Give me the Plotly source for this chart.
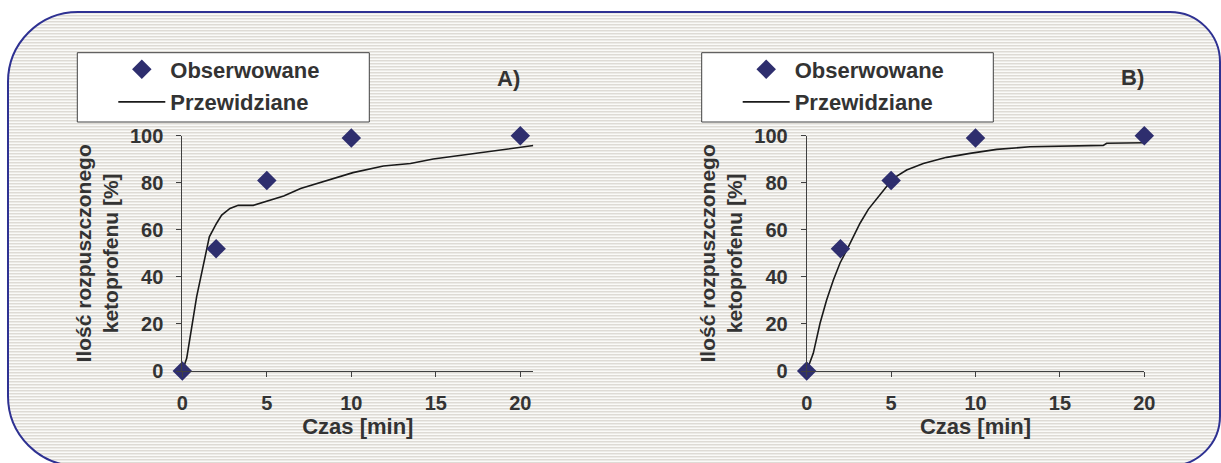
import base64, struct, zlib
import numpy as np
import plotly.graph_objects as go

# ---------------- data ----------------
time_obs = [0, 2, 5, 10, 20]
obs_A = [0, 52, 81, 99, 100]
obs_B = [0, 52, 81, 99, 100]

pred_A_time = [0, 0.26, 0.85, 1.24, 1.6, 2.03, 2.33, 2.82, 3.31, 4.2, 5.0, 6.0, 7.0,
               8.5, 10.1, 11.9, 13.5, 14.85, 17.4, 20.0, 20.77]
pred_A = [0, 5.4, 31.6, 44.3, 57, 62.8, 66.3, 69.1, 70.4, 70.4, 72.2, 74.4, 77.6,
          80.9, 84.3, 87.1, 88.2, 90.1, 92.5, 94.9, 95.8]

pred_B_time = [0, 0.39, 0.79, 1.18, 1.58, 1.97, 2.37, 2.76, 3.16, 3.65, 4.15, 4.64,
               5.13, 5.92, 6.91, 8.29, 9.67, 11.26, 13.23, 17.57, 17.77, 20.0]
pred_B = [0, 7.5, 20.3, 30.2, 38.7, 45.8, 51.4, 56.8, 62.8, 68.7, 73.4, 77.6,
          81.9, 85.4, 88.2, 90.8, 92.5, 94.2, 95.3, 95.9, 96.8, 97.0]

x_ticks = [0, 5, 10, 15, 20]
y_ticks = [0, 20, 40, 60, 80, 100]
name_obs = "Obserwowane"
name_pred = "Przewidziane"
x_title = "Czas [min]"
y_title = "Ilość rozpuszczonego<br>ketoprofenu [%]"
panel_labels = ["A)", "B)"]

# ---------------- geometry / style ----------------
W, H = 1221, 463
FONT = "Liberation Sans, Arial, sans-serif"
TXT = "#333333"
AX = "#404040"
NAVY = "#2e2e6e"
BORDER = "#2e3192"


def px(x):
    return x / W


def py(y):
    return 1 - y / H


# background stripes image (decoration)
bx0, bx1, by0, by1 = 8, 1220, 12, 466
rl, rr = 70, 50
yy, xx = np.mgrid[0:H, 0:W]
inside = (xx >= bx0) & (xx <= bx1) & (yy >= by0) & (yy <= by1)
for cx, cy, r, sx, sy in [(bx0 + rl, by0 + rl, rl, -1, -1), (bx0 + rl, by1 - rl, rl, -1, 1),
                          (bx1 - rr, by0 + rr, rr, 1, -1), (bx1 - rr, by1 - rr, rr, 1, 1)]:
    region = ((xx - cx) * sx > 0) & ((yy - cy) * sy > 0)
    outside = (xx - cx) ** 2 + (yy - cy) ** 2 > r * r
    inside &= ~(region & outside)
row_cols = np.array([[222, 219, 213], [236, 235, 231], [250, 250, 248]], dtype=np.uint8)
img = np.full((H, W, 3), 255, dtype=np.uint8)
stripe = row_cols[yy % 3]
img[inside] = stripe[inside]


def png_bytes(arr):
    h, w, _ = arr.shape
    raw = b"".join(b"\x00" + arr[i].tobytes() for i in range(h))

    def chunk(t, d):
        c = struct.pack(">I", len(d)) + t + d
        return c + struct.pack(">I", zlib.crc32(t + d) & 0xFFFFFFFF)

    return (b"\x89PNG\r\n\x1a\n" + chunk(b"IHDR", struct.pack(">IIBBBBB", w, h, 8, 2, 0, 0, 0))
            + chunk(b"IDAT", zlib.compress(raw, 9)) + chunk(b"IEND", b""))


bg_src = "data:image/png;base64," + base64.b64encode(png_bytes(img)).decode()

# rounded border path
k = 0.5523


def P(x, y):
    return f"{px(x):.5f},{py(y):.5f}"


path = (
    f"M{P(bx0 + rl, by0)} L{P(bx1 - rr, by0)} "
    f"C{P(bx1 - rr + k * rr, by0)} {P(bx1, by0 + rr - k * rr)} {P(bx1, by0 + rr)} "
    f"L{P(bx1, by1 - rr)} "
    f"C{P(bx1, by1 - rr + k * rr)} {P(bx1 - rr + k * rr, by1)} {P(bx1 - rr, by1)} "
    f"L{P(bx0 + rl, by1)} "
    f"C{P(bx0 + rl - k * rl, by1)} {P(bx0, by1 - rl + k * rl)} {P(bx0, by1 - rl)} "
    f"L{P(bx0, by0 + rl)} "
    f"C{P(bx0, by0 + rl - k * rl)} {P(bx0 + rl - k * rl, by0)} {P(bx0 + rl, by0)} Z"
)

fig = go.Figure()

panels = [
    dict(xa="x", ya="y", leg="legend", tp=pred_A_time, pp=pred_A, obs=obs_A),
    dict(xa="x2", ya="y2", leg="legend2", tp=pred_B_time, pp=pred_B, obs=obs_B),
]
for i, p in enumerate(panels):
    fig.add_trace(go.Scatter(
        x=p["tp"], y=p["pp"], mode="lines", name=name_pred,
        line=dict(color="#1a1a1a", width=1.6),
        xaxis=p["xa"], yaxis=p["ya"], legend=p["leg"],
        legendgroup=f"pred{i}", legendrank=2, cliponaxis=False, hoverinfo="skip"))
    fig.add_trace(go.Scatter(
        x=time_obs, y=p["obs"], mode="markers", name=name_obs,
        marker=dict(symbol="diamond", size=15, color=NAVY, line=dict(width=0)),
        xaxis=p["xa"], yaxis=p["ya"], legend=p["leg"],
        legendgroup=f"obs{i}", legendrank=1, cliponaxis=False))

tickfont = dict(family=FONT, size=20, color=TXT, weight="bold")
ytitlefont = dict(family=FONT, size=21, color=TXT, weight="bold")
xtitlefont = dict(family=FONT, size=22, color=TXT, weight="bold")


def xaxis(domain, rng, anchor):
    return dict(domain=domain, range=rng, anchor=anchor, tickvals=x_ticks,
                showline=True, linecolor=AX, linewidth=1, ticks="outside", ticklen=5,
                tickcolor=AX, tickwidth=1, showgrid=False, zeroline=False,
                tickfont=tickfont, ticklabelstandoff=9, automargin=False,
                title=dict(text=x_title, font=xtitlefont, standoff=0))


def yaxis(domain, anchor):
    return dict(domain=domain, range=[0, 100], anchor=anchor, tickvals=y_ticks,
                showline=True, linecolor=AX, linewidth=1, ticks="outside", ticklen=5,
                tickcolor=AX, tickwidth=1, showgrid=False, zeroline=False,
                tickfont=tickfont, ticklabelstandoff=9, automargin=False,
                title=dict(text=y_title, font=ytitlefont, standoff=5))


ydom = [py(371), py(135.7)]
legfont = dict(family=FONT, size=22, color=TXT, weight="bold")


def legend(x):
    return dict(x=x, y=py(48.5), xanchor="left", yanchor="top", bgcolor="rgba(0,0,0,0)",
                borderwidth=0, font=legfont, itemwidth=47, tracegroupgap=1,
                traceorder="grouped")


fig.update_layout(
    width=W, height=H,
    margin=dict(l=0, r=0, t=0, b=0),
    paper_bgcolor="white", plot_bgcolor="rgba(0,0,0,0)",
    showlegend=True,
    xaxis=xaxis([px(182.3), px(533.3)], [0, 20.77], "y"),
    yaxis=yaxis(ydom, "x"),
    xaxis2=xaxis([px(806.7), px(1144.3)], [0, 20], "y2"),
    yaxis2=yaxis(ydom, "x2"),
    legend=legend(px(77.3 + 36)),
    legend2=legend(px(701.7 + 36)),
    images=[dict(source=bg_src, xref="paper", yref="paper", x=0, y=1, sizex=1, sizey=1,
                 sizing="stretch", xanchor="left", yanchor="top", layer="below")],
    shapes=[
        dict(type="path", path=path, xref="paper", yref="paper",
             line=dict(color=BORDER, width=2), fillcolor="rgba(0,0,0,0)", layer="above"),
        dict(type="rect", xref="paper", yref="paper", x0=px(77.3), x1=px(369.3),
             y0=py(122), y1=py(52.7), fillcolor="white", line=dict(color=AX, width=1),
             layer="above"),
        dict(type="rect", xref="paper", yref="paper", x0=px(701.7), x1=px(993.3),
             y0=py(122), y1=py(52.7), fillcolor="white", line=dict(color=AX, width=1),
             layer="above"),
    ],
    annotations=[
        dict(text=panel_labels[0], x=px(508), y=py(78.5), xref="paper", yref="paper",
             showarrow=False, xanchor="center", yanchor="middle", font=xtitlefont),
        dict(text=panel_labels[1], x=px(1132.7), y=py(77.7), xref="paper", yref="paper",
             showarrow=False, xanchor="center", yanchor="middle", font=xtitlefont),
    ],
)

fig.write_html("out.html", config={"displayModeBar": False},
               post_script="document.body.style.margin='0';")
